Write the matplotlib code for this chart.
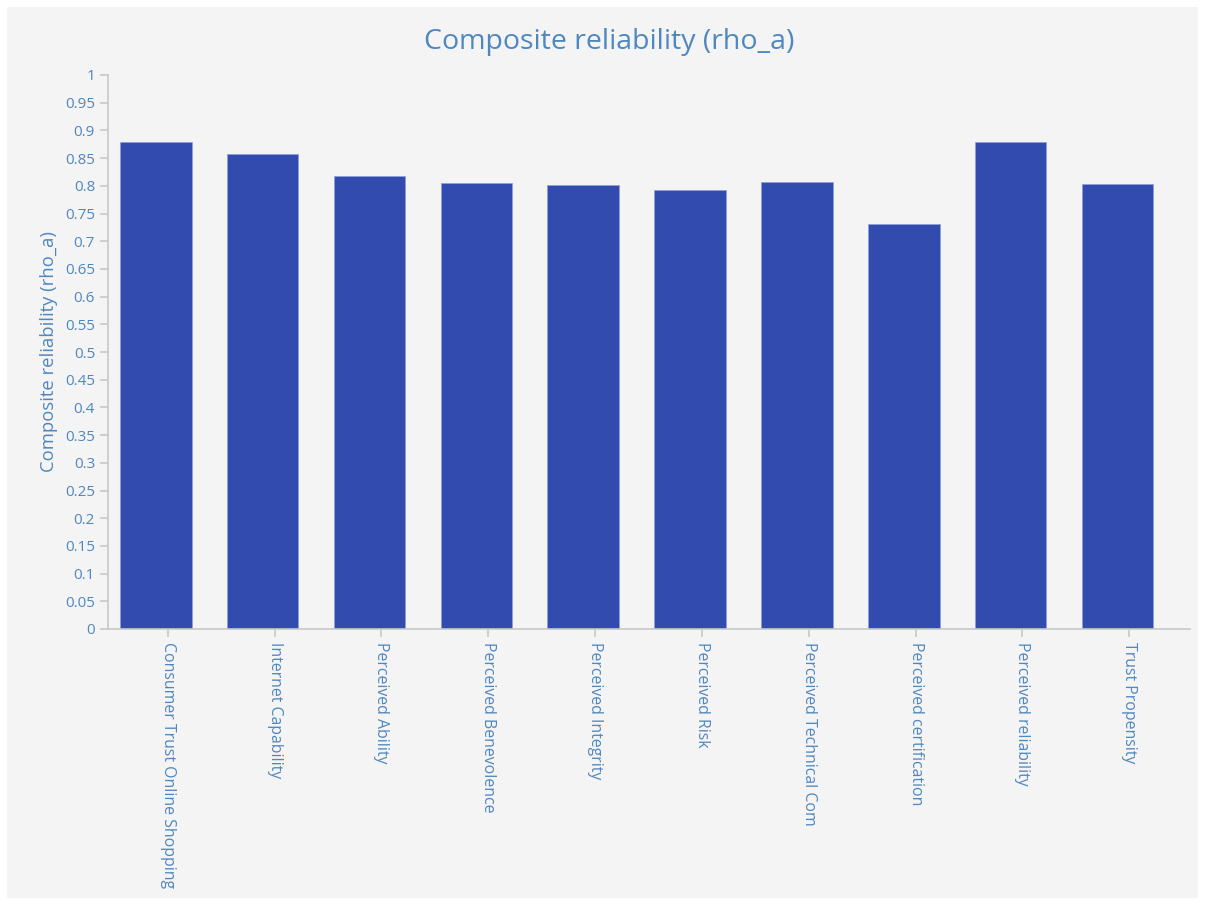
import matplotlib
matplotlib.use("Agg")
import matplotlib.pyplot as plt
from matplotlib.patches import Rectangle

categories = ["Consumer Trust Online Shopping", "Internet Capability", "Perceived Ability",
              "Perceived Benevolence", "Perceived Integrity", "Perceived Risk",
              "Perceived Technical Com", "Perceived certification", "Perceived reliability",
              "Trust Propensity"]
values = [0.879, 0.857, 0.818, 0.805, 0.801, 0.792, 0.806, 0.731, 0.879, 0.803]
yticks = [i * 0.05 for i in range(21)]
ytick_labels = ["0", "0.05", "0.1", "0.15", "0.2", "0.25", "0.3", "0.35", "0.4", "0.45",
                "0.5", "0.55", "0.6", "0.65", "0.7", "0.75", "0.8", "0.85", "0.9", "0.95", "1"]

plt.rcParams['font.family'] = ['Open Sans', 'DejaVu Sans']
text_col = "#4f87c0"
bar_col = "#314cae"
axis_col = "#c8c8c8"

fig = plt.figure(figsize=(12.05, 9.06), dpi=100)
fig.patch.set_facecolor("white")
# grey panel behind everything
fig.patches.append(Rectangle((7 / 1205, 8 / 906), 1191 / 1205, 891 / 906,
                             transform=fig.transFigure, facecolor="#f4f4f4",
                             edgecolor="none", zorder=-1))

ax = fig.add_axes([108.3 / 1205, 1 - 629 / 906, 1081.7 / 1205, 554 / 906])
ax.set_facecolor("none")

x = list(range(len(categories)))
# bars sit a little left of their tick, as in the original
ax.bar([i - 0.111 for i in x], values, width=0.67, color=bar_col,
       edgecolor="#8fa0d8", linewidth=0.6)

ax.set_xlim(-0.556, 9.568)
ax.set_ylim(0, 1)
ax.set_yticks(yticks)
ax.set_yticklabels(ytick_labels)
ax.set_xticks(x)
ax.set_xticklabels(categories, rotation=-90)

for s in ["top", "right"]:
    ax.spines[s].set_visible(False)
for s in ["left", "bottom"]:
    ax.spines[s].set_color(axis_col)
    ax.spines[s].set_linewidth(1.2)

ax.tick_params(axis="both", colors=axis_col, labelcolor=text_col, labelsize=11,
               length=6, width=1.2)
ax.tick_params(axis="x", labelsize=11.4)

ax.set_ylabel("Composite reliability (rho_a)", color=text_col, fontsize=13.3, labelpad=5)
fig.text(609 / 1205, 1 - 42 / 906, "Composite reliability (rho_a)", color=text_col,
         fontsize=20.5, ha="center", va="center")

fig.savefig("out.png", dpi=100)
